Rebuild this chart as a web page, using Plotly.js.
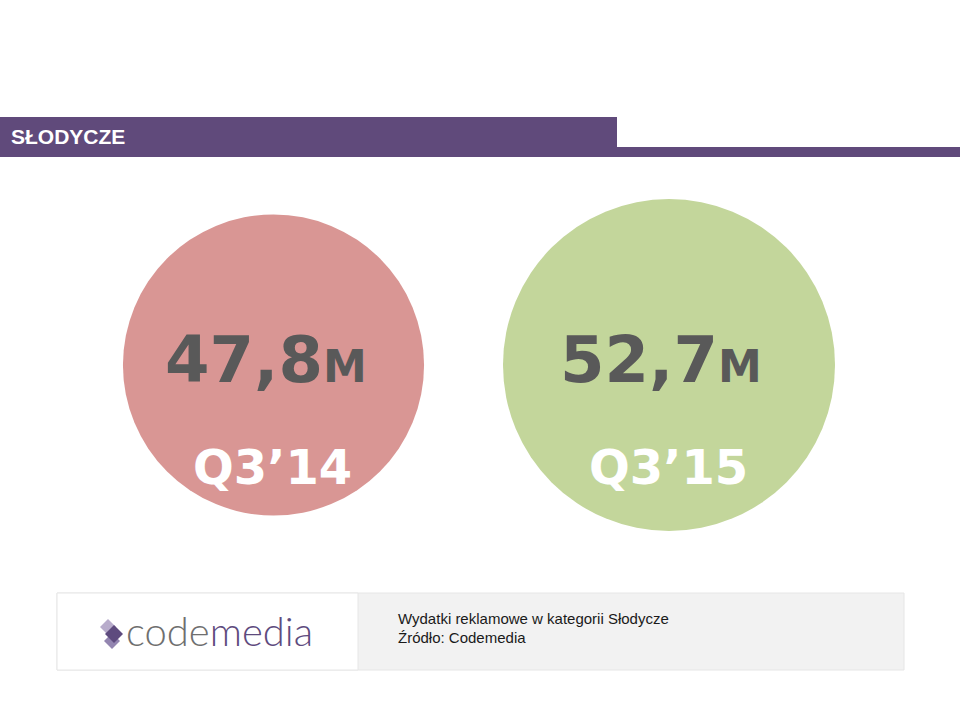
<!DOCTYPE html>
<html>
<head>
<meta charset="utf-8">
<script src="https://cdn.plot.ly/plotly-3.0.1.min.js"></script>
<style>html,body{margin:0;padding:0;background:#fff;}#chart{width:960px;height:720px;}</style>
</head>
<body>
<div id="chart"></div>
<script>
// ---- data ----
const periods = ["Q3\u201914", "Q3\u201915"];
const spendMillions = [47.8, 52.7];
const unitLabel = "M";
const sectionTitle = "S\u0141ODYCZE";
const noteLines = ["Wydatki reklamowe w kategorii S\u0142odycze", "\u0179r\u00f3d\u0142o: Codemedia"];
const logoParts = ["code", "media"];

// ---- styles ----
const circleColors = ["#D99694", "#C3D69B"];
const purple = "#604A7B";
const W = 960, H = 720;
const px = (y) => 1 - y / H;   // pixel row -> paper y
const pxx = (x) => x / W;      // pixel col -> paper x
const SIZE_SCALE = 6.3;         // px of diameter per million

const idx = periods.map((_, i) => i);
const fmt = (v) => v.toFixed(1).replace(".", ",");

const trace = {
  type: "scatter",
  mode: "markers",
  x: idx,
  y: idx.map(() => 0),
  marker: {
    size: spendMillions.map(v => v * SIZE_SCALE),
    color: circleColors,
    line: {width: 0},
    opacity: 1
  },
  hoverinfo: "skip",
  cliponaxis: false
};

const annotations = [];
idx.forEach(i => {
  annotations.push({
    x: i, y: 0, xref: "x", yref: "y",
    text: fmt(spendMillions[i]) + '<span style="font-size:44px">' + unitLabel + '</span>',
    showarrow: false, xanchor: "center", yanchor: "middle",
    xshift: -8, yshift: 5,
    font: {family: "DejaVu Sans, sans-serif", size: 64, color: "#595959", weight: 700}
  });
  annotations.push({
    x: i, y: 0, xref: "x", yref: "y",
    text: periods[i],
    showarrow: false, xanchor: "center", yanchor: "middle",
    xshift: -1, yshift: -102,
    font: {family: "DejaVu Sans, sans-serif", size: 48, color: "#FFFFFF", weight: 700}
  });
});

// header text
annotations.push({
  xref: "paper", yref: "paper", x: pxx(9), y: px(136),
  xanchor: "left", yanchor: "middle", showarrow: false,
  text: sectionTitle,
  font: {family: "Liberation Sans, Arial, sans-serif", size: 21, color: "#FFFFFF", weight: 700}
});
// footer note
noteLines.forEach((t, k) => {
  annotations.push({
    xref: "paper", yref: "paper", x: pxx(396), y: px(618 + k * 19),
    xanchor: "left", yanchor: "middle", showarrow: false,
    text: t,
    font: {family: "Liberation Sans, Arial, sans-serif", size: 15, color: "#1a1a1a"}
  });
});
// logo wordmark
annotations.push({
  xref: "paper", yref: "paper", x: pxx(124), y: px(631),
  xanchor: "left", yanchor: "middle", showarrow: false,
  text: '<span style="color:#6f6f6f">' + logoParts[0] + '</span><span style="color:#5E4B7E">' + logoParts[1] + '</span>',
  font: {family: "Lato, sans-serif", size: 40, color: "#6f6f6f", weight: 300}
});

function diamond(cx, cy, r, color) {
  const p = `M ${pxx(cx - r)} ${px(cy)} L ${pxx(cx)} ${px(cy - r)} L ${pxx(cx + r)} ${px(cy)} L ${pxx(cx)} ${px(cy + r)} Z`;
  return {type: "path", xref: "paper", yref: "paper", path: p, fillcolor: color, line: {width: 0}, layer: "above"};
}

const shapes = [
  // header bars
  {type: "rect", xref: "paper", yref: "paper", x0: 0, x1: pxx(617), y0: px(157), y1: px(117), fillcolor: purple, line: {width: 0}},
  {type: "rect", xref: "paper", yref: "paper", x0: pxx(617), x1: 1, y0: px(157), y1: px(147), fillcolor: purple, line: {width: 0}},
  // footer panels
  {type: "rect", xref: "paper", yref: "paper", x0: pxx(57), x1: pxx(904), y0: px(670), y1: px(593), fillcolor: "#F2F2F2", line: {width: 1, color: "#E6E6E6"}},
  {type: "rect", xref: "paper", yref: "paper", x0: pxx(57), x1: pxx(358), y0: px(670), y1: px(593), fillcolor: "#FFFFFF", line: {width: 1, color: "#E6E6E6"}},
  // logo diamonds
  diamond(108, 627, 8, "#B8ACCB"),
  diamond(112, 641, 8, "#9385B0"),
  diamond(114, 634, 9, "#5E4B7E")
];

const xspan = 669 - 273.5;
const layout = {
  width: W, height: H,
  margin: {l: 0, r: 0, t: 0, b: 0, pad: 0},
  paper_bgcolor: "#FFFFFF",
  plot_bgcolor: "rgba(0,0,0,0)",
  showlegend: false,
  xaxis: {range: [-273.5 / xspan, (W - 273.5) / xspan], visible: false, fixedrange: true},
  yaxis: {range: [-355, 365], visible: false, fixedrange: true},
  annotations: annotations,
  shapes: shapes,
  hovermode: false
};

Plotly.newPlot("chart", [trace], layout, {displayModeBar: false, staticPlot: true});
</script>
</body>
</html>
